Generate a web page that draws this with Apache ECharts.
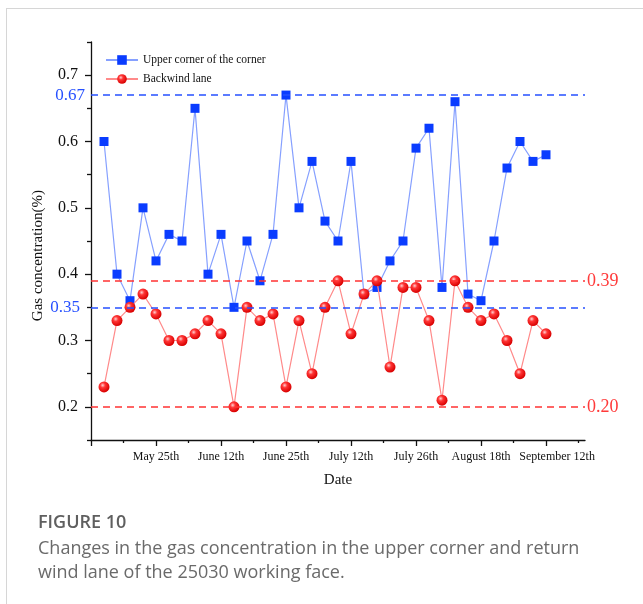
<!DOCTYPE html>
<html>
<head>
<meta charset="utf-8">
<script src="https://cdn.jsdelivr.net/npm/echarts@6/dist/echarts.min.js"></script>
<style>
  html, body { margin: 0; padding: 0; background: #fff; }
  #wrap { position: relative; width: 643px; height: 604px; overflow: hidden; }
  #card { position: absolute; left: 6px; top: 8px; width: 700px; height: 700px;
          border: 1px solid #d6d6d6; box-sizing: border-box; }
  #chart { position: absolute; left: 0; top: 0; width: 643px; height: 604px; }
  #fig { position: absolute; left: 38px; top: 509px; font-family: "Open Sans", sans-serif;
         font-size: 18px; font-weight: 600; color: #5f5f5f; }
  #cap { position: absolute; left: 38px; top: 535px; width: 560px; font-family: "Open Sans", sans-serif;
         font-size: 18px; line-height: 24px; color: #6a6a6a; }
</style>
</head>
<body>
<div id="wrap">
  <div id="card"></div>
  <div id="chart"></div>
  <div id="fig">FIGURE 10</div>
  <div id="cap">Changes in the gas concentration in the upper corner and return wind lane of the 25030 working face.</div>
</div>
<script>
// Gas concentration readings (%), one per survey day, in order
const upperCorner = [
  0.60, 0.40, 0.36, 0.50, 0.42, 0.46, 0.45, 0.65, 0.40, 0.46,
  0.35, 0.45, 0.39, 0.46, 0.67, 0.50, 0.57, 0.48, 0.45, 0.57,
  0.37, 0.38, 0.42, 0.45, 0.59, 0.62, 0.38, 0.66, 0.37, 0.36,
  0.45, 0.56, 0.60, 0.57, 0.58
];
const backwindLane = [
  0.23, 0.33, 0.35, 0.37, 0.34, 0.30, 0.30, 0.31, 0.33, 0.31,
  0.20, 0.35, 0.33, 0.34, 0.23, 0.33, 0.25, 0.35, 0.39, 0.31,
  0.37, 0.39, 0.26, 0.38, 0.38, 0.33, 0.21, 0.39, 0.35, 0.33,
  0.34, 0.30, 0.25, 0.33, 0.31
];

// Date labels and the survey-day positions they sit at
const dateLabels = ['May 25th', 'June 12th', 'June 25th', 'July 12th', 'July 26th', 'August 18th'];
const dateTickPos = [5, 10, 15, 20, 25, 30, 35];
const dateLabelPos = [5, 10, 15, 20, 25, 30];
// the last date label is set a little to the right of its tick
const lastDateLabel = 'September 12th';
const lastDateLabelPos = [35.85];
const minorDayTicks = [2.5, 7.5, 12.5, 17.5, 22.5, 27.5, 32.5, 37.5];

// Concentration axis ticks
const yLabelTicks = [0.2, 0.3, 0.4, 0.5, 0.6, 0.7];
const yMinorTicks = [0.15, 0.25, 0.35, 0.45, 0.55, 0.65, 0.75];

// Reference levels
const upperMax = 0.67, upperMean = 0.35;
const laneMax = 0.39, laneMin = 0.20;

const serif = '"Liberation Serif", "Times New Roman", serif';
const toPoints = arr => arr.map((v, i) => [i + 1, v]);

const chart = echarts.init(document.getElementById('chart'), null, { renderer: 'canvas' });

const blueLabel = (txt, dist) => ({
  show: true, position: 'start', formatter: txt, distance: dist,
  color: '#2650ff', fontSize: 17, fontFamily: serif
});
const redLabel = txt => ({
  show: true, position: 'end', formatter: txt, distance: 2,
  color: '#ff3a3a', fontSize: 18, fontFamily: serif
});

chart.setOption({
  animation: false,
  grid: { left: 91, top: 42, right: 58, bottom: 164 },
  legend: {
    orient: 'vertical', left: 100, top: 49,
    itemWidth: 32, itemHeight: 12, itemGap: 7,
    textStyle: { fontFamily: serif, fontSize: 11.5, color: '#111' },
    data: ['Upper corner of the corner', 'Backwind lane']
  },
  graphic: [{
    type: 'text', left: 31, top: 190,
    rotation: Math.PI / 2,
    style: { text: 'Gas concentration(%)', font: '15px ' + serif, fill: '#111' }
  }],
  xAxis: [{
    type: 'value', min: 0, max: 38, position: 'bottom',
    name: 'Date', nameLocation: 'middle', nameGap: 33,
    nameTextStyle: { fontFamily: serif, fontSize: 15, color: '#111' },
    axisLine: { show: true, lineStyle: { color: '#111', width: 1.3 } },
    axisTick: { show: true, length: 6, customValues: [0].concat(dateTickPos), lineStyle: { color: '#111', width: 1.3 } },
    axisLabel: {
      show: true, customValues: dateLabelPos, margin: 11,
      showMinLabel: true, showMaxLabel: true, hideOverlap: false,
      fontFamily: serif, fontSize: 12, color: '#111',
      formatter: v => dateLabels[dateLabelPos.indexOf(Math.round(v))] || ''
    },
    splitLine: { show: false }
  }, {
    type: 'value', min: 0, max: 38, position: 'bottom',
    axisLine: { show: false },
    axisTick: { show: true, length: 3, customValues: minorDayTicks, lineStyle: { color: '#111', width: 1.3 } },
    axisLabel: {
      show: true, customValues: lastDateLabelPos, margin: 11,
      showMinLabel: true, showMaxLabel: true, hideOverlap: false,
      fontFamily: serif, fontSize: 12, color: '#111',
      formatter: () => lastDateLabel
    },
    splitLine: { show: false }
  }],
  yAxis: [{
    type: 'value', min: 0.15, max: 0.75, position: 'left',
    axisLine: { show: true, lineStyle: { color: '#111', width: 1.3 } },
    axisTick: { show: true, length: 6, customValues: yLabelTicks, lineStyle: { color: '#111', width: 1.3 } },
    axisLabel: {
      show: true, customValues: yLabelTicks, margin: 13,
      fontFamily: serif, fontSize: 16, color: '#111',
      formatter: v => v.toFixed(1)
    },
    splitLine: { show: false }
  }, {
    type: 'value', min: 0.15, max: 0.75, position: 'left',
    axisLine: { show: false },
    axisTick: { show: true, length: 4, customValues: yMinorTicks, lineStyle: { color: '#111', width: 1.3 } },
    axisLabel: { show: false },
    splitLine: { show: false }
  }],
  series: [{
    name: 'Upper corner of the corner', type: 'line',
    xAxisIndex: 0, yAxisIndex: 0,
    data: toPoints(upperCorner),
    symbol: 'rect', symbolSize: 9,
    itemStyle: { color: '#0a3cff' },
    lineStyle: { color: '#86a0ff', width: 1.2 },
    z: 3,
    markLine: {
      silent: true, symbol: 'none',
      lineStyle: { color: '#2650ff', type: [7, 5], width: 1.5 },
      data: [
        { yAxis: upperMax, label: blueLabel(String(upperMax), 6) },
        { yAxis: upperMean, label: blueLabel(String(upperMean), 11) }
      ]
    }
  }, {
    name: 'Backwind lane', type: 'line',
    xAxisIndex: 0, yAxisIndex: 0,
    data: toPoints(backwindLane),
    symbol: 'circle', symbolSize: 11,
    itemStyle: {
      color: {
        type: 'radial', x: 0.38, y: 0.35, r: 0.65,
        colorStops: [
          { offset: 0, color: '#ffd0d0' },
          { offset: 0.35, color: '#ff3535' },
          { offset: 1, color: '#d80000' }
        ]
      }
    },
    lineStyle: { color: '#ff8a8a', width: 1.2 },
    z: 4,
    markLine: {
      silent: true, symbol: 'none',
      lineStyle: { color: '#ff3333', type: [7, 5], width: 1.5 },
      data: [
        { yAxis: laneMax, label: redLabel(laneMax.toFixed(2)) },
        { yAxis: laneMin, label: redLabel(laneMin.toFixed(2)) }
      ]
    }
  }]
});
</script>
</body>
</html>
